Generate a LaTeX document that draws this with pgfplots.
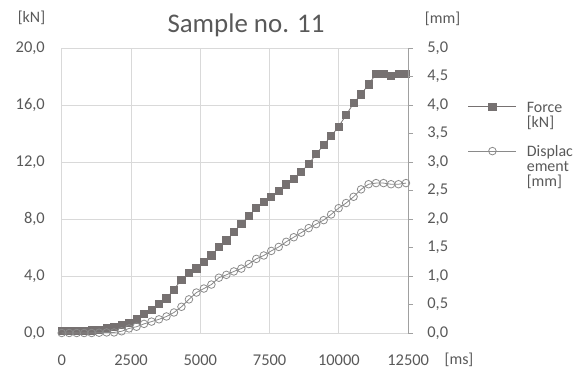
\documentclass[border=0pt]{standalone}
\usepackage{fontspec}
\setmainfont{Carlito}
\usepackage{pgfplots}
\pgfplotsset{compat=1.18}
\definecolor{txtc}{HTML}{595959}
\definecolor{gridc}{HTML}{D9D9D9}
\definecolor{axc}{HTML}{A0A0A0}
\definecolor{forcec}{HTML}{767171}
\definecolor{dispc}{HTML}{8A8A8A}
\pgfplotsset{
  forcestyle/.style={color=forcec, line width=0.8bp, mark=square*, mark size=3.6bp, mark options={solid}},
  dispstyle/.style={color=dispc, line width=0.8bp, mark=o, mark size=3.8bp, mark options={solid, line width=0.8bp}},
  every tick label/.append style={font=\fontsize{16.5}{19}\selectfont, text=txtc, inner sep=0pt},
  /pgf/number format/assume math mode=true,
}
\begin{document}
\begin{tikzpicture}
\useasboundingbox (0,0) rectangle (580bp,369bp);
\begin{axis}[
  at={(61.7bp,36bp)}, anchor=south west,
  scale only axis, width=346.5bp, height=285bp,
  xmin=0, xmax=12500, ymin=0, ymax=20,
  xtick={0,2500,...,12500}, ytick={0,4,...,20},
  scaled x ticks=false, scaled y ticks=false,
  grid=major, grid style={draw=gridc, line width=0.9bp},
  axis line style={draw=none}, major tick length=0pt,
  yticklabel style={/pgf/number format/.cd, fixed, fixed zerofill, precision=1, use comma, /tikz/.cd, anchor=east, xshift=-16.7bp},
  xticklabel style={/pgf/number format/.cd, 1000 sep={}, /tikz/.cd, anchor=north, yshift=-22bp},
  clip=false,
]
\addplot[forcestyle] coordinates {
(0,0.15)(270,0.15)(540,0.15)(810,0.16)(1080,0.18)(1350,0.22)(1620,0.33)(1890,0.40)(2160,0.56)(2430,0.72)(2700,0.96)(2970,1.33)(3240,1.61)(3510,2.04)(3780,2.43)(4050,3.05)(4320,3.75)(4590,4.19)(4860,4.54)(5130,5.0)(5400,5.45)(5670,6.03)(5940,6.5)(6210,7.08)(6480,7.65)(6750,8.21)(7020,8.79)(7290,9.21)(7560,9.56)(7830,9.96)(8100,10.43)(8370,10.81)(8640,11.32)(8910,11.84)(9180,12.56)(9450,13.19)(9720,13.82)(9990,14.48)(10260,15.30)(10530,16.12)(10800,16.75)(11070,17.45)(11340,18.18)(11610,18.18)(11880,18.06)(12150,18.18)(12420,18.18)
};
\end{axis}
\begin{axis}[
  at={(61.7bp,36bp)}, anchor=south west,
  scale only axis, width=346.5bp, height=285bp,
  xmin=0, xmax=12500, ymin=0, ymax=5,
  axis x line=none, axis y line*=right,
  ytick={0,0.5,...,5}, scaled y ticks=false,
  y axis line style={draw=axc, line width=0.9bp, -},
  ytick style={draw=axc, line width=0.9bp},
  tick align=outside, major tick length=5bp,
  yticklabel style={/pgf/number format/.cd, fixed, fixed zerofill, precision=1, use comma, /tikz/.cd, anchor=west, xshift=14bp},
  clip=false,
  legend cell align=left,
  legend image code/.code={\draw[#1, mark repeat=2, mark phase=2] plot coordinates {(0bp,0bp) (24bp,0bp) (48bp,0bp)};},
  legend style={at={(axis description cs:1.1726,0.8193)}, anchor=north west, draw=none, fill=none,
    inner sep=0pt, outer sep=0pt, row sep=0pt, column sep=10bp,
    nodes={inner sep=0pt, text=txtc, font=\fontsize{16}{19}\selectfont}},
]
\addlegendimage{forcestyle}
\addlegendentry{Force\strut}
\addlegendimage{empty legend}
\addlegendentry{[kN]\strut}
\addlegendimage{empty legend}
\addlegendentry{\strut}
\addplot[dispstyle] coordinates {
(0,0.0)(270,0.0)(540,0.0)(810,0.0)(1080,0.0)(1350,0.005)(1620,0.01)(1890,0.01)(2160,0.03)(2430,0.08)(2700,0.11)(2970,0.16)(3240,0.20)(3510,0.24)(3780,0.29)(4050,0.36)(4320,0.46)(4590,0.59)(4860,0.71)(5130,0.78)(5400,0.85)(5670,0.97)(5940,1.02)(6210,1.08)(6480,1.13)(6750,1.21)(7020,1.30)(7290,1.36)(7560,1.44)(7830,1.51)(8100,1.60)(8370,1.68)(8640,1.76)(8910,1.84)(9180,1.91)(9450,1.98)(9720,2.08)(9990,2.19)(10260,2.28)(10530,2.39)(10800,2.52)(11070,2.61)(11340,2.63)(11610,2.63)(11880,2.61)(12150,2.61)(12420,2.63)
};
\addlegendentry{Displac\strut}
\addlegendimage{empty legend}
\addlegendentry{ement\strut}
\addlegendimage{empty legend}
\addlegendentry{[mm]\strut}
\end{axis}
\node[anchor=base, text=txtc, font=\fontsize{27}{32}\selectfont] at (246bp,336bp) {Sample no. 11};
\node[anchor=base, text=txtc, font=\fontsize{16}{19}\selectfont] at (31.5bp,346.5bp) {[kN]};
\node[anchor=base, text=txtc, font=\fontsize{16}{19}\selectfont] at (442.5bp,345bp) {[mm]};
\node[anchor=base, text=txtc, font=\fontsize{16}{19}\selectfont] at (459bp,5bp) {[ms]};
\end{tikzpicture}
\end{document}
